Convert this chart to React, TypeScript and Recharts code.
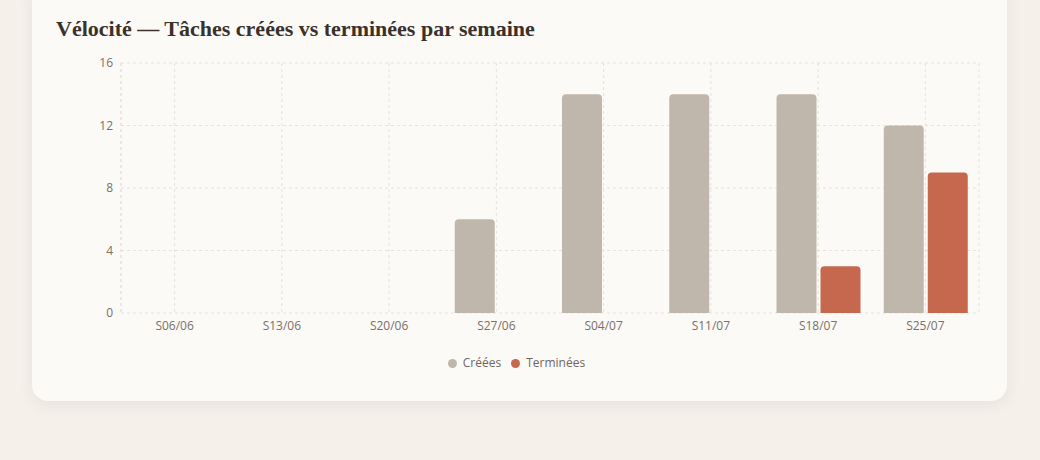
import { Bar, BarChart, CartesianGrid, Legend, XAxis, YAxis } from "recharts";

const weeks = ["S06/06", "S13/06", "S20/06", "S27/06", "S04/07", "S11/07", "S18/07", "S25/07"];
const created = [0, 0, 0, 6, 14, 14, 14, 12];
const done = [0, 0, 0, 0, 0, 0, 3, 9];
const yTicks = [0, 4, 8, 12, 16];

const data = weeks.map((week, i) => ({ week, created: created[i], done: done[i] }));

const GRID = "#e6e1da";
const TICK = { fontSize: 12, fill: "#7a7069", fontFamily: "'Open Sans', sans-serif" };

export default function App() {
  return (
    <div style={{ position: "fixed", inset: 0, background: "#f5f0ea" }}>
      <div
        style={{
          position: "absolute",
          left: 32,
          top: -20,
          width: 975,
          height: 421,
          background: "#fcfaf7",
          borderRadius: 16,
          boxShadow: "0 4px 14px rgba(90, 70, 50, 0.08)",
        }}
      />
      <div
        style={{
          position: "absolute",
          left: 56,
          top: 16,
          fontFamily: "'Liberation Serif', serif",
          fontWeight: 700,
          fontSize: 22,
          color: "#3a312b",
          whiteSpace: "nowrap",
        }}
      >
        Vélocité — Tâches créées vs terminées par semaine
      </div>
      <div style={{ position: "absolute", left: 56, top: 50 }}>
        <BarChart
          width={940}
          height={330}
          data={data}
          margin={{ top: 13, right: 17, left: 8, bottom: 9 }}
          barSize={40}
          barGap={4}
        >
          <CartesianGrid stroke={GRID} strokeDasharray="3 3" />
          <XAxis dataKey="week" tick={TICK} tickLine={false} axisLine={false} height={30} />
          <YAxis
            ticks={yTicks}
            domain={[0, 16]}
            tick={TICK}
            tickLine={false}
            axisLine={{ stroke: GRID, strokeDasharray: "3 3" }}
            width={57}
          />
          <YAxis
            yAxisId="right"
            orientation="right"
            width={0}
            tick={false}
            tickLine={false}
            axisLine={{ stroke: GRID, strokeDasharray: "3 3" }}
          />
          <Legend
            iconType="circle"
            iconSize={9}
            wrapperStyle={{ paddingTop: 11, fontSize: 12, fontFamily: "'Open Sans', sans-serif" }}
            formatter={(v) => <span style={{ color: "#6f665f", marginLeft: 2 }}>{v}</span>}
          />
          <Bar dataKey="created" name="Créées" fill="#c0b7ac" radius={[4, 4, 0, 0]} isAnimationActive={false} />
          <Bar dataKey="done" name="Terminées" fill="#c5684e" radius={[4, 4, 0, 0]} isAnimationActive={false} />
        </BarChart>
      </div>
    </div>
  );
}
